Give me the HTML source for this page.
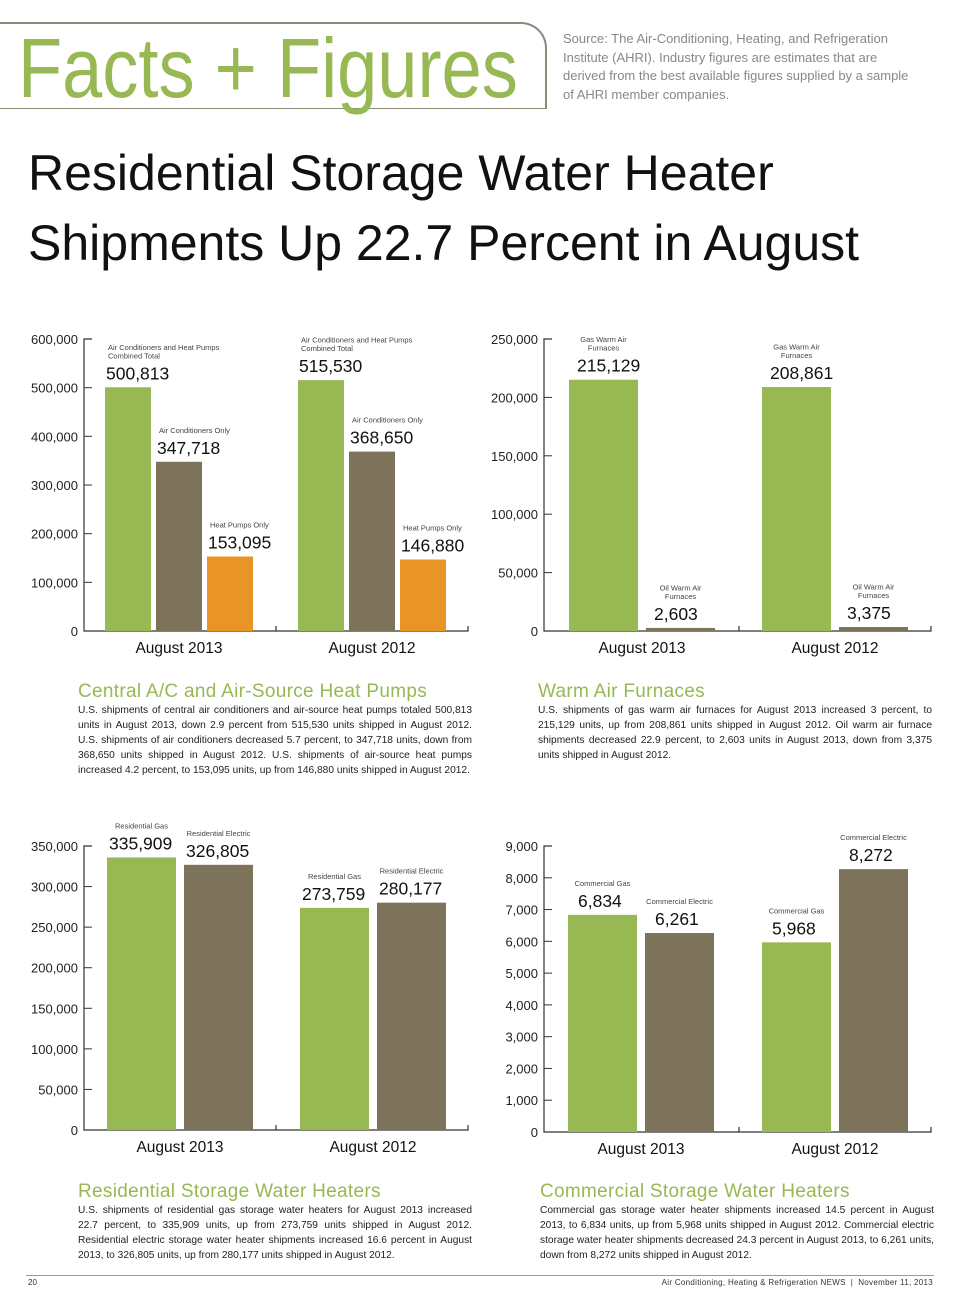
<!DOCTYPE html>
<html><head><meta charset="utf-8"><style>
body{margin:0;background:#fff;width:960px;height:1303px;position:relative;overflow:hidden;font-family:"Liberation Sans",sans-serif;color:#222}
.abs{position:absolute}
.h2{position:absolute;font-size:19px;color:#97b853;letter-spacing:0.3px}
.p{position:absolute;font-size:10.2px;line-height:15px;text-align:justify;color:#222}
svg text{font-family:"Liberation Sans",sans-serif}
</style></head><body>
<div class="abs" style="left:-10px;top:22px;width:555px;height:84px;border:2px solid #8a8a7a;border-left:none;border-bottom:1px solid #8a8a7a;border-radius:0 26px 0 0;"></div>
<div class="abs" style="left:18px;top:20px;font-size:84px;color:#97b853;transform:scaleX(0.86);transform-origin:left top;white-space:nowrap;">Facts + Figures</div>
<div class="abs" style="left:563px;top:30px;font-size:13px;line-height:18.5px;color:#888;width:352px">Source: The Air-Conditioning, Heating, and Refrigeration Institute (AHRI). Industry figures are estimates that are derived from the best available figures supplied by a sample of AHRI member companies.</div>
<div class="abs" style="left:28px;top:138px;font-size:50px;line-height:70px;color:#111;white-space:nowrap">Residential Storage Water Heater<br>Shipments Up 22.7 Percent in August</div>

<svg class="abs" style="left:0;top:0" width="960" height="1303" id="charts"></svg>

<div class="h2" style="left:78px;top:681px">Central A/C and Air-Source Heat Pumps</div>
<div class="p" style="left:78px;top:703px;width:394px">U.S. shipments of central air conditioners and air-source heat pumps totaled 500,813 units in August 2013, down 2.9 percent from 515,530 units shipped in August 2012. U.S. shipments of air conditioners decreased 5.7 percent, to 347,718 units, down from 368,650 units shipped in August 2012. U.S. shipments of air-source heat pumps increased 4.2 percent, to 153,095 units, up from 146,880 units shipped in August 2012.</div>
<div class="h2" style="left:538px;top:681px">Warm Air Furnaces</div>
<div class="p" style="left:538px;top:703px;width:394px">U.S. shipments of gas warm air furnaces for August 2013 increased 3 percent, to 215,129 units, up from 208,861 units shipped in August 2012. Oil warm air furnace shipments decreased 22.9 percent, to 2,603 units in August 2013, down from 3,375 units shipped in August 2012.</div>
<div class="h2" style="left:78px;top:1181px">Residential Storage Water Heaters</div>
<div class="p" style="left:78px;top:1203px;width:394px">U.S. shipments of residential gas storage water heaters for August 2013 increased 22.7 percent, to 335,909 units, up from 273,759 units shipped in August 2012. Residential electric storage water heater shipments increased 16.6 percent in August 2013, to 326,805 units, up from 280,177 units shipped in August 2012.</div>
<div class="h2" style="left:540px;top:1181px">Commercial Storage Water Heaters</div>
<div class="p" style="left:540px;top:1203px;width:394px">Commercial gas storage water heater shipments increased 14.5 percent in August 2013, to 6,834 units, up from 5,968 units shipped in August 2012. Commercial electric storage water heater shipments decreased 24.3 percent in August 2013, to 6,261 units, down from 8,272 units shipped in August 2012.</div>

<div class="abs" style="left:26px;top:1275px;width:908px;border-top:1px solid #999"></div>
<div class="abs" style="left:28px;top:1278px;font-size:8px;color:#333">20</div>
<div class="abs" style="right:27px;top:1278px;font-size:8px;color:#333;letter-spacing:0.3px">Air Conditioning, Heating &amp; Refrigeration NEWS &nbsp;|&nbsp; November 11, 2013</div>

<script>
const groups=["August 2013","August 2012"];
const c1Labels=["Air Conditioners and Heat Pumps|Combined Total","Air Conditioners Only","Heat Pumps Only"];
const c1Values=[[500813,347718,153095],[515530,368650,146880]];
const c1Ticks=[0,100000,200000,300000,400000,500000,600000];
const c2Labels=["Gas Warm Air|Furnaces","Oil Warm Air|Furnaces"];
const c2Values=[[215129,2603],[208861,3375]];
const c2Ticks=[0,50000,100000,150000,200000,250000];
const c3Labels=["Residential Gas","Residential Electric"];
const c3Values=[[335909,326805],[273759,280177]];
const c3Ticks=[0,50000,100000,150000,200000,250000,300000,350000];
const c4Labels=["Commercial Gas","Commercial Electric"];
const c4Values=[[6834,6261],[5968,8272]];
const c4Ticks=[0,1000,2000,3000,4000,5000,6000,7000,8000,9000];
const colors=["#97b853","#7d735a","#e89426"];
const NS="http://www.w3.org/2000/svg";
const svg=document.getElementById('charts');
function el(t,a){const e=document.createElementNS(NS,t);for(const k in a)e.setAttribute(k,a[k]);return e;}
function fmt(v){return v.toLocaleString('en-US');}
function chart(o){
  const y=v=>o.y0-(v/o.max)*(o.y0-o.yTop);
  const g=el('g',{});
  
  
  svg.appendChild(g);
  const ax=el('path',{d:`M${o.ax+8},${o.yTop} H${o.ax} V${o.y0} H${o.axEnd} V${o.y0-5} M${o.mid},${o.y0} V${o.y0-5}`,stroke:'#333','stroke-width':1.2,fill:'none'});
  
  
  g.appendChild(ax);
  o.ticks.forEach(t=>{
    const ty=y(t);
    const tl=el('line',{x1:o.ax,x2:o.ax+8,y1:ty,y2:ty,stroke:'#333','stroke-width':1});
    
    
    g.appendChild(tl);
    const tx=el('text',{x:o.ax-6,y:ty+5,'text-anchor':'end','font-size':13,fill:'#222'});
    tx.textContent=fmt(t);
    
    
    g.appendChild(tx);
  });
  o.values.forEach((gv,gi)=>{
    gv.forEach((v,bi)=>{
      const x=o.gx[gi]+bi*(o.bw+o.gap);
      const r=el('rect',{x:x,y:y(v),width:o.bw,height:o.y0-y(v),fill:colors[bi]});
      
      
      g.appendChild(r);
      const vy=y(v)-8;
      const vt=el('text',{x:x+o.vOff,y:vy,'font-size':17.5,fill:'#111'});
      vt.textContent=fmt(v);
      
      
      g.appendChild(vt);
      const lines=o.labels[bi].split('|');
      lines.forEach((ln,li)=>{
        const lt=el('text',{x:x+o.vOff+(o.center?o.bw/2-o.vOff:2),y:vy-21-(lines.length-1-li)*8.5,'font-size':7.5,fill:'#444','text-anchor':o.center?'middle':'start'});
        lt.textContent=ln;
        
        
        g.appendChild(lt);
      });
    });
    const n=gv.length, w=n*o.bw+(n-1)*o.gap;
    const gl=el('text',{x:o.gx[gi]+w/2,y:o.y0+22,'text-anchor':'middle','font-size':15.5,fill:'#111'});
    gl.textContent=groups[gi];
    
    
    g.appendChild(gl);
  });
}
chart({name:'ac-heat-pump-chart',ax:84,axEnd:468,mid:276,y0:631,yTop:339,max:600000,ticks:c1Ticks,values:c1Values,labels:c1Labels,gx:[105,298],bw:46,gap:5,vOff:1});
chart({name:'furnace-chart',ax:544,axEnd:931,mid:739,y0:631,yTop:339,max:250000,ticks:c2Ticks,values:c2Values,labels:c2Labels,gx:[569,762],bw:69,gap:8,vOff:8,center:true});
chart({name:'residential-water-heater-chart',ax:84,axEnd:468,mid:276,y0:1130,yTop:846,max:350000,ticks:c3Ticks,values:c3Values,labels:c3Labels,gx:[107,300],bw:69,gap:8,vOff:2,center:true});
chart({name:'commercial-water-heater-chart',ax:544,axEnd:931,mid:739,y0:1132,yTop:846,max:9000,ticks:c4Ticks,values:c4Values,labels:c4Labels,gx:[568,762],bw:69,gap:8,vOff:10,center:true});
</script>
</body></html>
